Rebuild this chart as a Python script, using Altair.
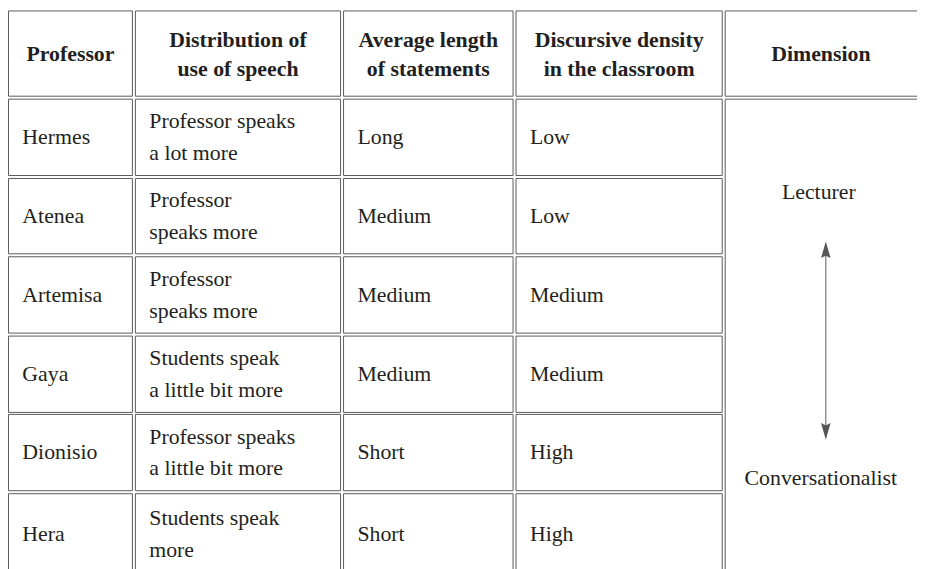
import altair as alt
import pandas as pd

# ---- table content ----
headers = ["Professor", "Distribution of\nuse of speech", "Average length\nof statements",
           "Discursive density\nin the classroom", "Dimension"]
professors = ["Hermes", "Atenea", "Artemisa", "Gaya", "Dionisio", "Hera"]
distribution = ["Professor speaks\na lot more", "Professor\nspeaks more", "Professor\nspeaks more",
                "Students speak\na little bit more", "Professor speaks\na little bit more",
                "Students speak\nmore"]
avg_length = ["Long", "Medium", "Medium", "Medium", "Short", "Short"]
density = ["Low", "Low", "Medium", "Medium", "High", "High"]
dimension_ends = ["Lecturer", "Conversationalist"]

# ---- layout (chart pixels) ----
W, H = 917, 561
col_left = [0.5, 128.5, 338.5, 512.5, 723.5]
col_right = [125.5, 335.5, 509.5, 720.5, 940]
row_top = [0.5, 89.5, 169.5, 248.5, 328.5, 407.5, 487.5]
row_bottom = [86.5, 166.5, 245.5, 325.5, 405.5, 484.5, 568.5]
pad = 14
FONT = "Liberation Serif"
TXT = "#231f20"
HDR_LH = 30
BODY_LH = 32


def first_line_y(center, label, lh):
    n = label.count("\n") + 1
    return center - (n - 1) * lh / 2


# cells
cells = []
for c in range(5):
    cells.append(dict(x=col_left[c], x2=col_right[c], y=row_top[0], y2=row_bottom[0]))
for r in range(1, 7):
    for c in range(4):
        cells.append(dict(x=col_left[c], x2=col_right[c], y=row_top[r], y2=row_bottom[r] + (8 if r == 6 else 0)))
cells.append(dict(x=col_left[4], x2=col_right[4], y=row_top[1], y2=row_bottom[6] + 8))
cells_df = pd.DataFrame(cells)

xs = alt.Scale(domain=[0, W], nice=False, zero=False)
ys = alt.Scale(domain=[0, H], nice=False, zero=False, reverse=True)

rects = alt.Chart(cells_df).mark_rect(fill="white", stroke="#5a5a5a", strokeWidth=1).encode(
    x=alt.X("x:Q", scale=xs, axis=None), x2="x2:Q",
    y=alt.Y("y:Q", scale=ys, axis=None), y2="y2:Q")

# header text
hdr_center = (row_top[0] + row_bottom[0]) / 2 + 1
hdr_df = pd.DataFrame(dict(
    label=headers,
    x=[(col_left[c] + col_right[c]) / 2 if c < 4 else 820 for c in range(5)],
    y=[first_line_y(hdr_center, h, HDR_LH) for h in headers]))
hdr = alt.Chart(hdr_df).mark_text(font=FONT, fontSize=22, fontWeight="bold", color=TXT,
                                  align="center", baseline="middle", lineBreak="\n",
                                  lineHeight=HDR_LH).encode(
    x=alt.X("x:Q", scale=xs, axis=None), y=alt.Y("y:Q", scale=ys, axis=None), text="label:N")

# body text
body = []
for r in range(6):
    yc = (row_top[r + 1] + row_bottom[r + 1]) / 2
    for c, col in enumerate([professors, distribution, avg_length, density]):
        body.append(dict(label=col[r], x=col_left[c] + pad,
                         y=first_line_y(yc, col[r], BODY_LH)))
body_df = pd.DataFrame(body)
bodyt = alt.Chart(body_df).mark_text(font=FONT, fontSize=22, color=TXT, align="left",
                                     baseline="middle", lineBreak="\n",
                                     lineHeight=BODY_LH).encode(
    x=alt.X("x:Q", scale=xs, axis=None), y=alt.Y("y:Q", scale=ys, axis=None), text="label:N")

# dimension labels
dim_df = pd.DataFrame(dict(label=dimension_ends, x=[818, 820], y=[183, 472]))
dimt = alt.Chart(dim_df).mark_text(font=FONT, fontSize=22, color=TXT, align="center",
                                   baseline="middle").encode(
    x=alt.X("x:Q", scale=xs, axis=None), y=alt.Y("y:Q", scale=ys, axis=None), text="label:N")

# arrow
shaft_df = pd.DataFrame(dict(x=[825], y=[238], y2=[428]))
shaft = alt.Chart(shaft_df).mark_rule(color="#777777", strokeWidth=1.2).encode(
    x=alt.X("x:Q", scale=xs, axis=None), y=alt.Y("y:Q", scale=ys, axis=None), y2="y2:Q")
head_up = alt.Chart(pd.DataFrame(dict(x=[825], y=[245]))).mark_point(
    shape="M0,-1L0.4,0.4L0,0.2L-0.4,0.4Z", filled=True, size=576, color="#555555", opacity=1).encode(
    x=alt.X("x:Q", scale=xs, axis=None), y=alt.Y("y:Q", scale=ys, axis=None))
head_dn = alt.Chart(pd.DataFrame(dict(x=[825], y=[421]))).mark_point(
    shape="M0,1L0.4,-0.4L0,-0.2L-0.4,-0.4Z", filled=True, size=576, color="#555555", opacity=1).encode(
    x=alt.X("x:Q", scale=xs, axis=None), y=alt.Y("y:Q", scale=ys, axis=None))

chart = alt.layer(rects, hdr, bodyt, dimt, shaft, head_up, head_dn).properties(
    width=W, height=H, padding=0, autosize=alt.AutoSizeParams(type="none"),
    background="white").configure_view(strokeWidth=0)

chart.save("out.html", embed_options={"renderer": "svg", "actions": False})
